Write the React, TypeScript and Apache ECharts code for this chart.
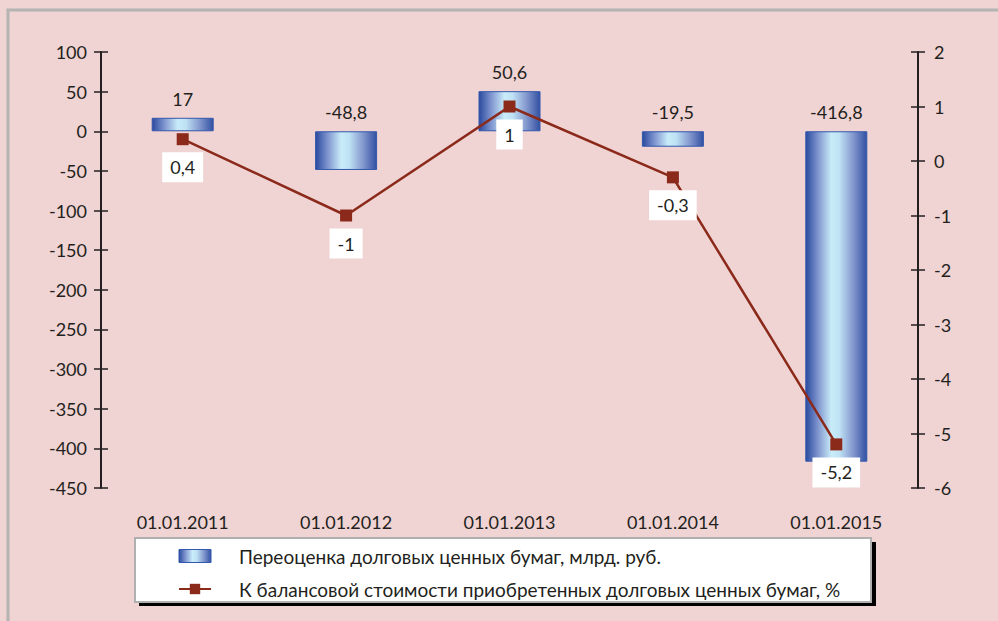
import React, { useEffect, useRef } from "react";
import * as echarts from "echarts";

const categories = ["01.01.2011", "01.01.2012", "01.01.2013", "01.01.2014", "01.01.2015"];
const revaluation = [17, -48.8, 50.6, -19.5, -416.8];
const sharePct = [0.4, -1, 1, -0.3, -5.2];
const barName = "Переоценка долговых ценных бумаг, млрд. руб.";
const lineName = "К балансовой стоимости приобретенных долговых ценных бумаг, %";

const FONT = "Lato, 'Noto Sans', sans-serif";
const FS = 18;
const TXT = "#231f20";
const fmt = (v: number) => String(v).replace(".", ",");

export default function App() {
  const ref = useRef<HTMLDivElement>(null);
  useEffect(() => {
    if (!ref.current) return;
    const chart = echarts.init(ref.current, undefined, { renderer: "svg" });
    const barGrad = new echarts.graphic.LinearGradient(0, 0, 1, 0, [
      { offset: 0, color: "#2a4a9e" },
      { offset: 0.2, color: "#7f95cf" },
      { offset: 0.42, color: "#c9ecf9" },
      { offset: 0.55, color: "#bfe2f4" },
      { offset: 0.78, color: "#8397cd" },
      { offset: 1, color: "#3251a3" },
    ]);
    const axisCommon = {
      axisLine: { show: true, lineStyle: { color: TXT, width: 2 } },
      splitLine: { show: false },
    };
    chart.setOption({
      animation: false,
      backgroundColor: "#f0d3d3",
      textStyle: { fontFamily: FONT },
      grid: { left: 101, right: 80, top: 52, bottom: 133 },
      graphic: [
        {
          type: "rect",
          shape: { x: 8, y: 10, width: 1000, height: 700 },
          style: { fill: "none", stroke: "#b4b4b4", lineWidth: 3 },
          silent: true,
          z: -1,
        },
        {
          type: "rect",
          shape: { x: 139, y: 542, width: 737, height: 64 },
          style: { fill: "#000" },
          silent: true,
          z: 0,
        },
        {
          type: "rect",
          shape: { x: 135, y: 538, width: 736, height: 64 },
          style: { fill: "#fff", stroke: "#b0b0b0", lineWidth: 2 },
          silent: true,
          z: 1,
        },
      ],
      legend: {
        orient: "vertical",
        left: 173,
        top: 539,
        itemWidth: 32,
        itemHeight: 13,
        itemGap: 9,
        z: 10,
        textStyle: { fontSize: 19, color: TXT, fontFamily: FONT, lineHeight: 24, padding: [0, 0, 0, 23] },
        data: [
          { name: barName, icon: "rect", itemStyle: { color: barGrad, borderColor: "#3358ad", borderWidth: 1 } },
          { name: lineName },
        ],
      },
      xAxis: {
        type: "category",
        data: categories,
        position: "bottom",
        axisLine: { show: false },
        axisTick: { show: false },
        axisLabel: { fontSize: FS, color: TXT, margin: 25, fontFamily: FONT },
      },
      yAxis: [
        {
          type: "value",
          min: -450,
          max: 100,
          interval: 50,
          position: "left",
          ...axisCommon,
          axisTick: { show: true, length: 7, lineStyle: { color: TXT, width: 1.5 } },
          axisLabel: { fontSize: FS, color: TXT, margin: 14, fontFamily: FONT },
        },
        {
          type: "value",
          min: -6,
          max: 2,
          interval: 1,
          position: "right",
          ...axisCommon,
          axisTick: { show: true, length: 7, lineStyle: { color: TXT, width: 1.5 } },
          axisLabel: { fontSize: FS, color: TXT, margin: 16, fontFamily: FONT },
        },
        {
          type: "value",
          min: -450,
          max: 100,
          interval: 50,
          position: "left",
          axisLine: { show: false },
          splitLine: { show: false },
          axisTick: { show: true, inside: true, length: 7, lineStyle: { color: TXT, width: 1.5 } },
          axisLabel: { show: false },
        },
        {
          type: "value",
          min: -6,
          max: 2,
          interval: 1,
          position: "right",
          axisLine: { show: false },
          splitLine: { show: false },
          axisTick: { show: true, inside: true, length: 7, lineStyle: { color: TXT, width: 1.5 } },
          axisLabel: { show: false },
        },
      ],
      series: [
        {
          name: barName,
          type: "bar",
          yAxisIndex: 0,
          data: revaluation,
          barWidth: 62,
          itemStyle: { color: barGrad, borderColor: "#3358ad", borderWidth: 1 },
          label: {
            show: true,
            position: "top",
            distance: 10,
            fontSize: FS,
            color: TXT,
            fontFamily: FONT,
            formatter: (p: any) => fmt(p.value),
          },
          z: 2,
        },
        {
          name: lineName,
          type: "line",
          yAxisIndex: 1,
          data: sharePct,
          symbol: "rect",
          symbolSize: 12,
          lineStyle: { color: "#8b2a1b", width: 2.5 },
          itemStyle: { color: "#8b2a1b" },
          label: {
            show: true,
            position: "bottom",
            distance: 7,
            fontSize: FS,
            color: TXT,
            fontFamily: FONT,
            backgroundColor: "#ffffff",
            padding: [6, 8, 6, 8],
            formatter: (p: any) => fmt(p.value),
          },
          z: 3,
        },
      ],
    });
    return () => chart.dispose();
  }, []);
  return <div ref={ref} style={{ width: 998, height: 621, position: "fixed", left: 0, top: 0 }} />;
}
